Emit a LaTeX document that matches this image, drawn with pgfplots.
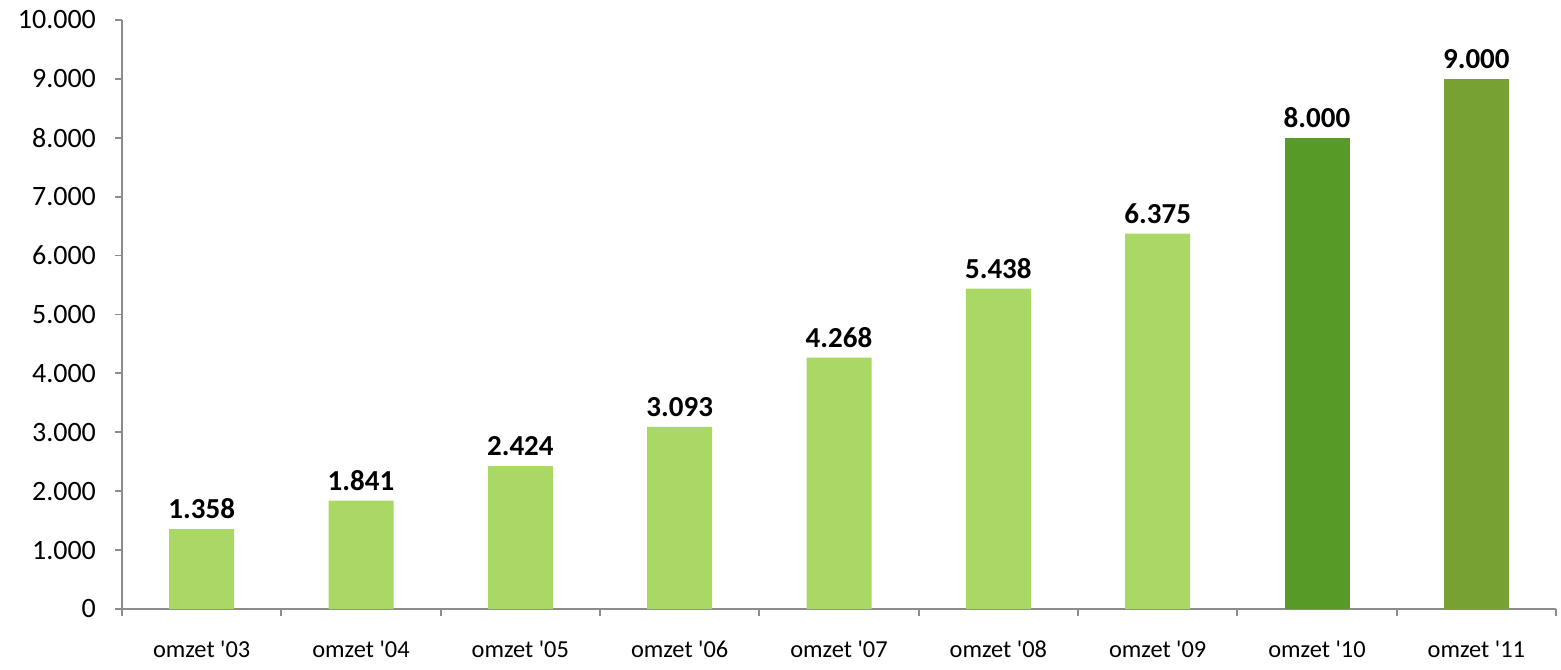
\documentclass[border=0pt]{standalone}
\usepackage{pgfplots}
\pgfplotsset{compat=1.18}
\usepackage{fontspec}
\setmainfont{Carlito}
\definecolor{lightg}{HTML}{A9D864}
\definecolor{darkg}{HTML}{589A28}
\definecolor{oliveg}{HTML}{77A233}
\definecolor{axgray}{HTML}{8C8C8C}
\begin{document}
\begin{tikzpicture}
\begin{axis}[
  scale only axis,
  width=717pt, height=294.5pt,
  xmin=-0.5, xmax=8.5, ymin=0, ymax=10000,
  axis x line=bottom, axis y line=left,
  axis line style={-, draw=axgray, line width=0.9pt},
  tick style={draw=axgray, line width=0.9pt},
  tick align=outside,
  major tick length=3.5pt, minor tick length=3.5pt,
  every major x tick/.append style={draw=none},
  xtick={0,...,8},
  xticklabels={omzet \textquotesingle03,omzet \textquotesingle04,omzet \textquotesingle05,omzet \textquotesingle06,omzet \textquotesingle07,omzet \textquotesingle08,omzet \textquotesingle09,omzet \textquotesingle10,omzet \textquotesingle11},
  minor xtick={-0.5,0.5,...,8.5},
  ytick={0,1000,...,10000},
  scaled y ticks=false,
  /pgf/number format/.cd, assume math mode=true, 1000 sep={.},
  /pgfplots/.cd,
  yticklabel style={font=\fontsize{14}{16}\selectfont, xshift=-6pt},
  xticklabel style={font=\fontsize{12.2}{14}\selectfont, yshift=-9pt},
  ybar, bar width=32.5pt, bar shift=0pt,
  nodes near coords,
  every node near coord/.append style={font=\bfseries\fontsize{14.5}{16}\selectfont, black, yshift=1.5pt, /pgf/number format/1000 sep={.}},
  clip=false,
]
\addplot[fill=lightg, draw=none] coordinates {(0,1358) (1,1841) (2,2424) (3,3093) (4,4268) (5,5438) (6,6375)};
\addplot[fill=darkg, draw=none] coordinates {(7,8000)};
\addplot[fill=oliveg, draw=none] coordinates {(8,9000)};
\end{axis}
\pgfresetboundingbox
\path[use as bounding box] ([xshift=-61pt,yshift=-30pt]current axis.south west) rectangle ([xshift=2.5pt,yshift=10pt]current axis.north east);
\end{tikzpicture}
\end{document}
